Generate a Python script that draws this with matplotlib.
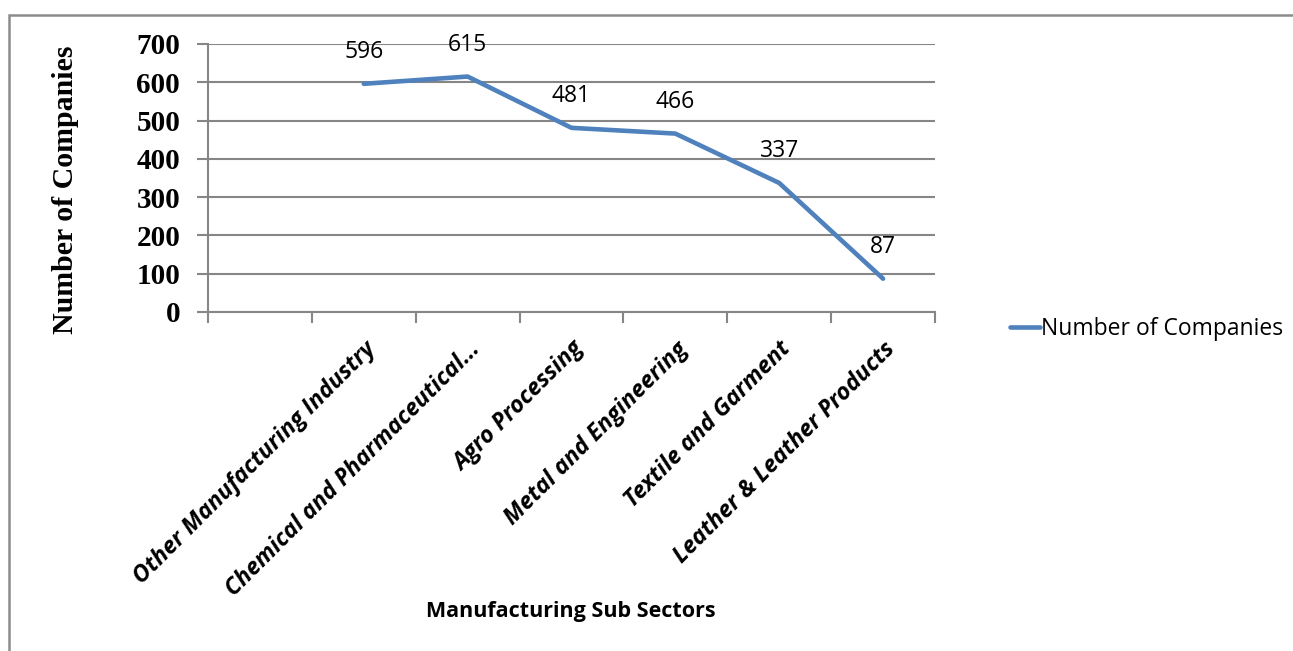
import matplotlib
matplotlib.use("Agg")
import matplotlib.pyplot as plt
from matplotlib.patches import Rectangle
from matplotlib.lines import Line2D

# manufacturing sub sectors and company counts
sectors = ["Other Manufacturing Industry", "Chemical and Pharmaceutical...",
           "Agro Processing", "Metal and Engineering", "Textile and Garment",
           "Leather & Leather Products"]
companies = [596, 615, 481, 466, 337, 87]
yticks = [0, 100, 200, 300, 400, 500, 600, 700]

line_color = "#4F81BD"
grid_color = "#868686"

fig = plt.figure(figsize=(12.93, 6.51), dpi=100)
ax = fig.add_axes([208 / 1293, 1 - 312 / 651, 727 / 1293, 268 / 651])

# first category slot is left blank, data sits in slots 1..6
xs = list(range(1, len(sectors) + 1))
ax.plot(xs, companies, color=line_color, lw=3.3, solid_capstyle="round",
        solid_joinstyle="round", zorder=3)
for x, v in zip(xs, companies):
    ax.annotate(str(v), (x, v), xytext=(0, 23), textcoords="offset points",
                ha="center", va="center", fontsize=16.5, family="Open Sans")

ax.set_xlim(-0.5, len(sectors) + 0.5)
ax.set_ylim(0, 700)
ax.set_yticks(yticks)
ax.set_yticklabels([str(t) for t in yticks], family="Liberation Serif",
                   fontweight="bold", fontsize=21)
ax.yaxis.grid(True, color=grid_color, lw=1.5)
ax.set_axisbelow(True)

ax.set_xticks([i - 0.5 for i in range(len(sectors) + 2)])
ax.set_xticklabels([])
ax.set_xticks(xs, minor=True)
ax.set_xticklabels(sectors, minor=True, rotation=45, ha="right", va="top",
                   rotation_mode="anchor", family="Open Sans", style="italic",
                   fontweight="bold", fontsize=16.8)
ax.tick_params(axis="x", which="minor", length=0, pad=18)
ax.tick_params(axis="x", which="major", length=8, width=1.5, color=grid_color)
ax.tick_params(axis="y", length=8, width=1.5, color=grid_color, pad=12)

for side in ["top", "right"]:
    ax.spines[side].set_visible(False)
for side in ["left", "bottom"]:
    ax.spines[side].set_color(grid_color)
    ax.spines[side].set_linewidth(1.5)

ax.set_ylabel("Number of Companies", family="Liberation Serif",
              fontweight="bold", fontsize=21.5)
ax.yaxis.set_label_coords(-(208 - 79) / 727, 0.5 - 12 / 268)
fig.text(571 / 1293, 1 - 612 / 651, "Manufacturing Sub Sectors",
         ha="center", va="center", family="Open Sans", fontweight="bold",
         fontsize=15.5)

handle = Line2D([], [], color=line_color, lw=3.3, solid_capstyle="round")
fig.legend([handle], ["Number of Companies"], loc="center left",
           bbox_to_anchor=(1010 / 1293, 1 - 329 / 651), frameon=False,
           handlelength=1.3, handletextpad=0.05, borderaxespad=0,
           borderpad=0, prop={"family": "Open Sans", "size": 16.5})

# chart frame
fig.patches.append(Rectangle((9 / 1293, -0.1), 1.2, (651 - 15) / 651 + 0.1,
                             transform=fig.transFigure, fill=False,
                             edgecolor="#8C8C8C", lw=1.8))

fig.savefig("out.png", dpi=100)
